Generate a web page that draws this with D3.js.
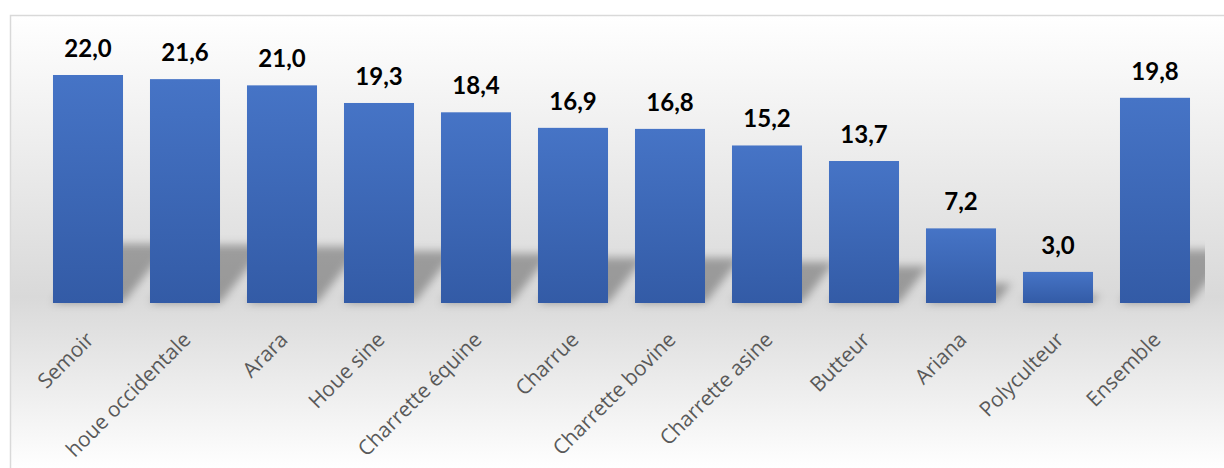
<!DOCTYPE html>
<html>
<head>
<meta charset="utf-8">
<script src="https://cdn.jsdelivr.net/npm/d3@7"></script>
<style>
  html, body { margin: 0; padding: 0; background: #ffffff; }
  svg { display: block; }
</style>
</head>
<body>
<svg id="chart" width="1224" height="468"></svg>
<script>
const categories = ["Semoir", "houe occidentale", "Arara", "Houe sine", "Charrette équine", "Charrue", "Charrette bovine", "Charrette asine", "Butteur", "Ariana", "Polyculteur", "Ensemble"];
const values = [22.0, 21.6, 21.0, 19.3, 18.4, 16.9, 16.8, 15.2, 13.7, 7.2, 3.0, 19.8];
const valueLabels = ["22,0", "21,6", "21,0", "19,3", "18,4", "16,9", "16,8", "15,2", "13,7", "7,2", "3,0", "19,8"];

const W = 1224, H = 468;
const svg = d3.select("#chart");
const defs = svg.append("defs");

// background gradient
const bg = defs.append("linearGradient").attr("id", "bgGrad")
  .attr("gradientUnits", "userSpaceOnUse").attr("x1", 0).attr("y1", 15).attr("x2", 0).attr("y2", 470);
bg.append("stop").attr("offset", "0%").attr("stop-color", "#ffffff");
bg.append("stop").attr("offset", "62%").attr("stop-color", "#d9d9d9");
bg.append("stop").attr("offset", "100%").attr("stop-color", "#ffffff");

// bar gradient
const bgBar = defs.append("linearGradient").attr("id", "barGrad")
  .attr("x1", 0).attr("y1", 0).attr("x2", 0).attr("y2", 1);
bgBar.append("stop").attr("offset", "0%").attr("stop-color", "#4674c6");
bgBar.append("stop").attr("offset", "100%").attr("stop-color", "#335ba6");

// shadow blur
const f = defs.append("filter").attr("id", "blur").attr("x", "-50%").attr("y", "-50%").attr("width", "200%").attr("height", "200%");
f.append("feGaussianBlur").attr("stdDeviation", 4);

defs.append("clipPath").attr("id", "plotClip").append("rect")
  .attr("x", 22).attr("y", 20).attr("width", 1183).attr("height", 300);

// frame
svg.append("rect").attr("x", 10.5).attr("y", 15.5).attr("width", W).attr("height", H)
  .attr("fill", "url(#bgGrad)").attr("stroke", "#d9d9d9").attr("stroke-width", 1.5);

const x = d3.scaleBand().domain(categories).range([39.5, 1203.5]).paddingInner(0.278).paddingOuter(0.139);
const y = d3.scaleLinear().domain([0, 25]).range([303, 303 - 25 * 10.364]);

const data = categories.map((c, i) => ({ c, v: values[i], l: valueLabels[i] }));

// perspective shadows
const shadowG = svg.append("g").attr("clip-path", "url(#plotClip)")
  .append("g").attr("filter", "url(#blur)");
shadowG.selectAll("path").data(data).enter().append("path")
  .attr("d", d => {
    const x0 = x(d.c), x1 = x0 + x.bandwidth();
    const y0 = y(0);
    const hs = (y(0) - y(d.v)) * 0.26;
    const dx = hs * 0.8;
    return `M${x0},${y0} L${x1},${y0} L${x1 + dx},${y0 - hs} L${x0 + dx},${y0 - hs} Z`;
  })
  .attr("fill", "#000").attr("fill-opacity", 0.3);

// bars
svg.append("g").selectAll("rect").data(data).enter().append("rect")
  .attr("x", d => x(d.c)).attr("y", d => y(d.v))
  .attr("width", x.bandwidth()).attr("height", d => y(0) - y(d.v))
  .attr("fill", "url(#barGrad)");

// value labels
svg.append("g").selectAll("text").data(data).enter().append("text")
  .attr("x", d => x(d.c) + x.bandwidth() / 2)
  .attr("y", d => y(d.v) - 18)
  .attr("text-anchor", "middle")
  .attr("font-family", "Lato, 'Open Sans', sans-serif")
  .attr("font-weight", "bold")
  .attr("font-size", 24)
  .attr("fill", "#000")
  .text(d => d.l);

// category axis labels
const xAxis = d3.axisBottom(x).tickSize(0).tickPadding(0);
const ax = svg.append("g").attr("transform", `translate(0, ${y(0)})`).call(xAxis);
ax.attr("font-family", null).attr("font-size", null);
ax.select(".domain").remove();
ax.selectAll("text")
  .style("font-family", "'Open Sans', 'Noto Sans', sans-serif")
  .style("font-size", "20.8px")
  .attr("fill", "#595959")
  .attr("text-anchor", "end")
  .attr("dy", 0)
  .attr("y", 0)
  .attr("transform", "translate(7, 38) rotate(-45)");
</script>
</body>
</html>
